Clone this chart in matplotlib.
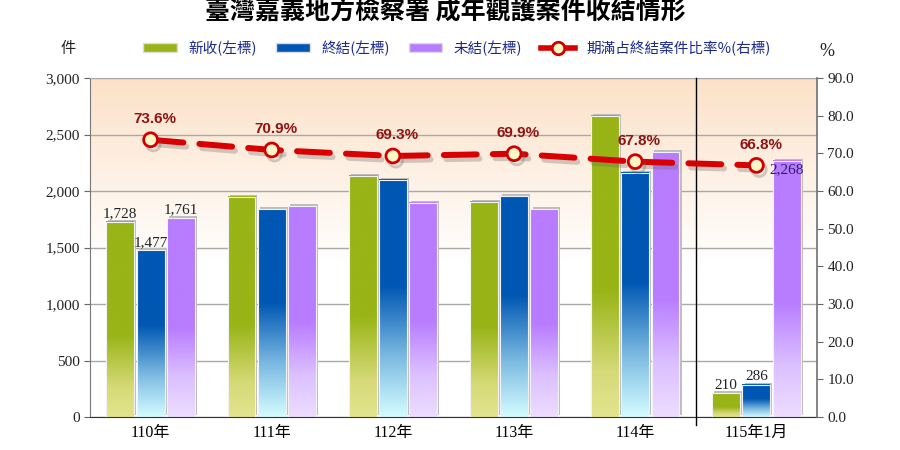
import numpy as np
import matplotlib.pyplot as plt
from matplotlib.colors import LinearSegmentedColormap
from matplotlib.patches import Patch
from matplotlib.lines import Line2D
from matplotlib import patheffects as pe
from matplotlib.transforms import ScaledTranslation

# 資料
categories = ['110年', '111年', '112年', '113年', '114年', '115年1月']
new_cases = [1728, 1950, 2135, 1905, 2665, 210]
closed = [1477, 1840, 2100, 1955, 2160, 286]
pending = [1761, 1865, 1895, 1840, 2345, 2268]
rate = [73.6, 70.9, 69.3, 69.9, 67.8, 66.8]
series_names = ['新收(左標)', '終結(左標)', '未結(左標)']
rate_name = '期滿占終結案件比率%(右標)'
title = '臺灣嘉義地方檢察署 成年觀護案件收結情形'

serif = ['Liberation Serif', 'Noto Sans CJK TC']
cjk = ['Noto Sans CJK TC', 'DejaVu Sans']
plt.rcParams['font.family'] = serif

fig = plt.figure(figsize=(9, 4.5), dpi=100)
ax = fig.add_axes([90 / 900, 1 - 417 / 450, 727 / 900, 339 / 450])
ax2 = ax.twinx()
x = np.arange(len(categories))
grad = np.linspace(0, 1, 256).reshape(-1, 1)

# 背景漸層
bg = LinearSegmentedColormap.from_list('bg', [(0, 'white'), (0.45, 'white'), (1, '#FCE1C8')])
ax.imshow(grad, cmap=bg, origin='lower', extent=(0, 1, 0, 1), transform=ax.transAxes,
          aspect='auto', zorder=0)

# 長條（漸層填色）
tops = ['#98B416', '#0057B3', '#B87CFF']
cmaps = [
    LinearSegmentedColormap.from_list('g', [(0, '#E3E48E'), (0.15, '#D6DA78'), (0.42, '#98B416'), (1, '#98B416')]),
    LinearSegmentedColormap.from_list('b', [(0, '#D4FCFF'), (0.25, '#7DBBE2'), (0.55, '#0057B3'), (1, '#0057B3')]),
    LinearSegmentedColormap.from_list('p', [(0, '#EDDDFF'), (0.2, '#DCC0FF'), (0.45, '#B87CFF'), (1, '#B87CFF')]),
]
width = 0.23
offsets = [-0.25, 0, 0.25]
shift = ScaledTranslation(1.5 / 72, 1.5 / 72, fig.dpi_scale_trans)
all_bars = []
for vals, off, cm in zip([new_cases, closed, pending], offsets, cmaps):
    shadow = ax.bar(x + off, vals, width, color='#bdbdbd', linewidth=0, zorder=1.5)
    for p in shadow:
        p.set_transform(ax.transData + shift)
    bars = ax.bar(x + off, vals, width, facecolor='none', edgecolor='#f2f2f2', linewidth=0.8, zorder=3)
    for p in bars:
        ax.imshow(grad, cmap=cm, origin='lower', aspect='auto', zorder=2, interpolation='bilinear',
                  extent=(p.get_x(), p.get_x() + p.get_width(), 0, p.get_height()))
    all_bars.append(bars)

# 數值標籤
for bars in all_bars:
    p = bars[0]
    ax.annotate(f'{p.get_height():,.0f}', (p.get_x() + p.get_width() / 2, p.get_height()),
                xytext=(0, 1), textcoords='offset points', ha='center', va='bottom',
                fontsize=11, color='#222222', zorder=6)
for bars in all_bars[:2]:
    p = bars[-1]
    ax.annotate(f'{p.get_height():,.0f}', (p.get_x() + p.get_width() / 2, p.get_height()),
                xytext=(0, 1), textcoords='offset points', ha='center', va='bottom',
                fontsize=11, color='#222222', zorder=6)
p = all_bars[2][-1]
ax.annotate(f'{p.get_height():,.0f}', (p.get_x() + p.get_width() / 2, p.get_height()),
            xytext=(0, -2), textcoords='offset points', ha='center', va='top',
            fontsize=11, color='#2B1B6B', zorder=6)

# 分隔線
ax.plot([4.5, 4.5], [-0.025, 1], color='black', lw=1, transform=ax.get_xaxis_transform(),
        clip_on=False, zorder=4)

# 比率折線
ax2.plot(x, rate, color='#D80000', lw=4.3, dashes=(5.5, 2.7), dash_capstyle='round',
         marker='o', ms=10, mfc='#FFF6C8', mec='#D00000', mew=2, zorder=5,
         path_effects=[pe.SimpleLineShadow(offset=(2, -3), shadow_color='#666666', alpha=0.3), pe.Normal()])
for xi, r in zip(x, rate):
    ax2.annotate(f'{r}%', (xi, r), xytext=(3, 15), textcoords='offset points', ha='center',
                 va='center', fontsize=11, fontweight='bold', color='#8E1414',
                 family='Liberation Sans')

# 座標軸
ax.set_xlim(-0.5, 5.5)
ax.set_ylim(0, 3000)
ax2.set_ylim(0, 90)
ax.set_yticks(range(0, 3001, 500))
ax.set_yticklabels([f'{v:,}' for v in range(0, 3001, 500)])
ax2.set_yticks(range(0, 91, 10))
ax2.set_yticklabels([f'{v:.1f}' for v in range(0, 91, 10)])
ax.set_xticks(x)
ax.set_xticklabels(categories, fontsize=11.5)
ax.tick_params(axis='x', which='major', length=0, pad=6)
ax.tick_params(axis='y', length=4, color='#666666', labelsize=11, labelcolor='#222222')
ax2.tick_params(axis='y', length=4, color='#666666', labelsize=11, labelcolor='#222222')
ax.yaxis.grid(True, color='#a9a9a9', lw=1)
ax.set_axisbelow(True)
ax.spines['top'].set_color('#a9a9a9')
ax.spines['left'].set_color('#777777')
ax.spines['bottom'].set_color('#333333')
ax.spines['right'].set_visible(False)
for s in ['top', 'left', 'bottom']:
    ax2.spines[s].set_visible(False)
ax2.spines['right'].set_color('#707070')
ax2.spines['right'].set_linewidth(1.2)

# 圖例與標題
handles = [Patch(facecolor=c, edgecolor='#dddddd') for c in tops]
handles.append(Line2D([], [], color='#D80000', lw=4, marker='o', ms=9, mfc='#FFF6C8',
                      mec='#D00000', mew=2))
fig.legend(handles, series_names + [rate_name], loc='center', bbox_to_anchor=(0.508, 0.893),
           ncol=4, frameon=False, prop={'family': cjk, 'size': 10.5}, labelcolor='#1B2A8A',
           handlelength=2.3, handleheight=0.6, columnspacing=1.3, handletextpad=0.8)
fig.text(0.076, 0.893, '件', ha='center', va='center', fontsize=11, family=cjk, color='#222222')
fig.text(0.919, 0.886, '%', ha='center', va='center', fontsize=13, color='#222222')
fig.text(0.495, 0.972, title, ha='center', va='center', fontsize=18, fontweight='bold', family=cjk)

fig.savefig('out.png', dpi=100)
